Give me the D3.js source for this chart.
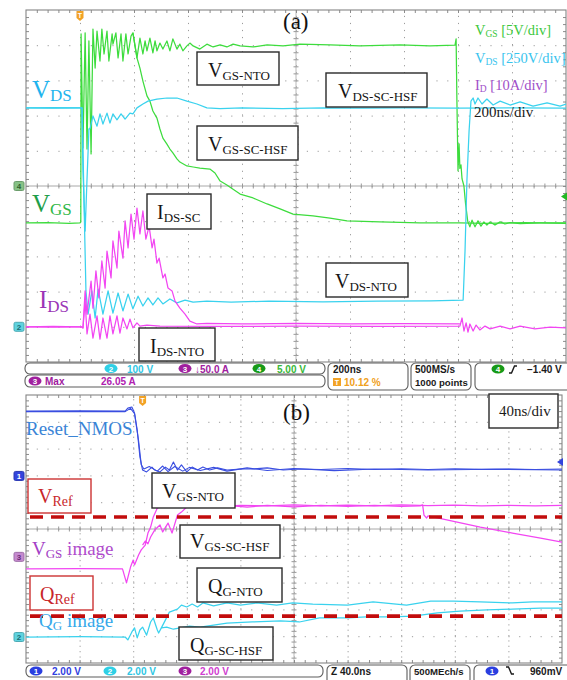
<!DOCTYPE html>
<html>
<head>
<meta charset="utf-8">
<title>Gate driver turn-off waveforms</title>
<script src="https://cdn.jsdelivr.net/npm/d3@7/dist/d3.min.js"></script>
<style>
  html, body { margin: 0; padding: 0; background: #fff; }
  svg { display: block; }
</style>
</head>
<body>
<svg id="chart" width="567" height="680"></svg>
<script>
// ---------- Panel (a): 200 ns/div, time in ns (trigger = 0), amplitude in screen divisions ----------
const timeDomainA = [-200, 1800];

const vgsNto = [[-200,-1.05],[-120,-1.04],[-40,-1.06],[0,-1.05],[3,-1.02],[4,4.32],[11,1.08],[19,4.35],[26,1.05],[33,4.12],[41,0.91],[48,4.46],[56,3.35],[63,4.40],[74,3.55],[81,4.46],[89,3.75],[100,4.40],[107,3.55],[119,4.32],[122,4.03],[133,4.35],[141,3.64],[152,4.32],[159,3.55],[170,4.32],[178,3.75],[189,4.26],[196,4.35],[211,3.64],[222,4.20],[233,3.75],[241,4.12],[248,3.84],[259,4.20],[270,3.78],[278,4.12],[285,3.84],[296,4.06],[307,3.89],[322,4.12],[333,3.84],[344,4.18],[359,3.89],[370,4.03],[381,3.84],[396,3.98],[407,4.06],[419,3.98],[444,3.89],[470,4.03],[493,3.95],[519,4.01],[544,3.95],[567,4.03],[593,3.98],[641,3.95],[693,4.01],[752,3.98],[815,4.03],[926,4.01],[1037,3.98],[1185,4.01],[1296,3.98],[1389,4.00],[1393,4.18],[1396,2.41],[1400,0.43],[1404,1.20],[1407,0.50],[1411,0.60],[1415,0.20],[1422,0.00],[1428,-0.50],[1436,-1.00],[1444,-1.16],[1452,-0.97],[1463,-1.16],[1474,-0.99],[1485,-1.14],[1496,-1.02],[1507,-1.11],[1519,-1.02],[1537,-1.11],[1556,-1.02],[1574,-1.08],[1593,-1.04],[1630,-1.07],[1704,-1.05],[1800,-1.05]];

const vgsScHsf = [[196,4.35],[211,3.64],[222,3.35],[233,2.98],[248,2.56],[259,2.41],[270,2.13],[285,1.93],[296,1.62],[307,1.36],[322,1.19],[333,1.05],[344,0.94],[359,0.77],[370,0.68],[396,0.57],[419,0.54],[444,0.51],[481,0.48],[500,0.37],[519,0.14],[544,0.03],[567,-0.09],[593,-0.23],[641,-0.34],[693,-0.51],[741,-0.65],[789,-0.80],[863,-0.85],[926,-0.91],[989,-0.99],[1111,-1.02],[1259,-1.05],[1407,-1.05],[1500,-1.06],[1650,-1.04],[1800,-1.06]];

const vdsNto = [[-200,2.22],[-100,2.21],[0,2.22],[8,2.22],[15,-0.50],[22,-2.98],[30,-3.64],[44,-2.98],[56,-3.75],[67,-2.93],[85,-3.64],[104,-2.98],[122,-3.61],[141,-3.04],[159,-3.55],[178,-3.07],[196,-3.49],[215,-3.13],[233,-3.41],[252,-3.18],[270,-3.38],[289,-3.18],[307,-3.35],[333,-3.21],[359,-3.32],[389,-3.24],[419,-3.30],[470,-3.27],[560,-3.30],[700,-3.27],[900,-3.29],[1100,-3.27],[1300,-3.26],[1419,-3.24],[1426,-1.85],[1433,0.14],[1441,1.56],[1448,2.41],[1456,2.50],[1463,2.33],[1474,2.50],[1489,2.33],[1507,2.47],[1530,2.30],[1556,2.41],[1593,2.30],[1630,2.39],[1678,2.27],[1730,2.36],[1778,2.27],[1800,2.33]];

const vdsScHsf = [[-200,2.22],[-100,2.23],[0,2.22],[7,2.22],[11,0.43],[19,-1.28],[26,0.20],[30,0.99],[33,1.62],[37,1.62],[48,1.99],[63,1.70],[74,2.05],[85,1.76],[100,2.07],[111,1.79],[122,2.05],[137,1.88],[152,2.05],[167,1.90],[185,2.07],[196,2.05],[211,2.22],[233,2.33],[252,2.41],[285,2.47],[322,2.50],[359,2.50],[396,2.41],[433,2.33],[470,2.22],[519,2.20],[600,2.22],[750,2.20],[900,2.22],[1050,2.21],[1200,2.22],[1400,2.21],[1600,2.22],[1800,2.21]];

const idsSc = [[-200,-4.00],[-100,-3.99],[0,-4.00],[5,-4.00],[11,-4.03],[19,-2.98],[26,-3.64],[41,-2.70],[48,-3.47],[59,-2.41],[70,-3.18],[81,-2.13],[93,-2.90],[100,-1.85],[115,-2.61],[122,-1.56],[137,-2.33],[144,-1.28],[159,-2.05],[167,-0.99],[178,-1.76],[189,-0.80],[200,-1.51],[211,-0.63],[222,-1.36],[233,-0.71],[244,-1.51],[256,-1.14],[267,-1.76],[274,-1.51],[285,-2.19],[293,-2.05],[307,-2.61],[315,-2.50],[326,-2.90],[341,-2.98],[352,-3.27],[370,-3.47],[389,-3.64],[407,-3.84],[433,-3.92],[470,-3.90],[600,-3.92],[800,-3.90],[1000,-3.92],[1200,-3.91],[1407,-3.92]];

const idsNto = [[-200,-4.00],[-100,-4.01],[0,-4.00],[5,-4.00],[11,-4.03],[19,-3.27],[26,-4.20],[37,-3.64],[48,-4.32],[63,-3.69],[74,-4.35],[85,-3.75],[100,-4.32],[111,-3.69],[122,-4.20],[137,-3.69],[148,-4.18],[159,-3.75],[174,-4.06],[185,-3.78],[196,-4.03],[211,-3.89],[222,-3.98],[248,-3.95],[296,-3.98],[500,-3.99],[800,-3.98],[1100,-3.99],[1407,-3.98],[1415,-3.75],[1422,-4.12],[1430,-3.89],[1437,-4.15],[1444,-3.92],[1456,-4.12],[1467,-3.95],[1481,-4.09],[1500,-3.98],[1519,-4.06],[1556,-3.98],[1593,-4.06],[1630,-3.98],[1685,-4.06],[1741,-4.01],[1800,-4.03]];

// channel ground markers and trigger level (divisions)
const groundsA = [{ch:"4", level:0, color:"#86c286", text:"#2f5f2f"}, {ch:"2", level:-4.0, color:"#5fd3df", text:"#1b6b75"}];
const triggerA = {time:0, level:-0.30, color:"#22b822"};

// ---------- Panel (b): 40 ns/div, time in ns from the left edge, amplitude in screen divisions ----------
const timeDomainB = [0, 400];

const resetNmosA = [[0,4.40],[40,4.41],[74,4.40],[76,4.51],[79,4.55],[81,4.33],[83,3.69],[85,2.69],[87,2.20],[90,2.13],[94,2.31],[96,2.20],[100,2.13],[104,2.31],[107,2.20],[110,2.50],[113,2.20],[116,2.39],[120,2.13],[124,2.31],[128,2.20],[132,2.31],[137,2.20],[143,2.28],[150,2.20],[160,2.24],[169,2.24],[180,2.28],[192,2.20],[204,2.24],[220,2.22],[240,2.26],[260,2.22],[280,2.25],[300,2.22],[320,2.25],[340,2.23],[360,2.24],[380,2.22],[400,2.24]];
const resetNmosB = [[0,4.38],[74,4.38],[78,4.50],[81,4.30],[84,3.30],[86,2.40],[88,2.24],[92,2.33],[98,2.16],[102,2.35],[106,2.14],[111,2.33],[117,2.16],[122,2.30],[130,2.18],[140,2.30],[150,2.16],[165,2.28],[180,2.18],[200,2.26],[230,2.18],[260,2.24],[300,2.20],[350,2.23],[400,2.20]];

const vgsImgNto = [[0,-1.49],[40,-1.48],[72,-1.49],[75,-2.01],[78,-1.42],[80,-1.16],[81,-1.34],[84,-0.97],[86,-0.78],[89,-0.60],[91,-0.15],[93,0.07],[95,0.45],[98,0.78],[102,0.90],[107,0.82],[113,0.90],[119,0.86],[130,0.90],[145,0.84],[160,0.88],[180,0.86],[200,0.90],[220,0.86],[240,0.89],[260,0.86],[280,0.90],[300,0.87],[320,0.89],[340,0.86],[360,0.88],[380,0.86],[400,0.88]];
const vgsImgScHsf = [[87,-0.60],[89,-0.45],[91,-0.55],[93,-0.30],[96,-0.04],[100,0.15],[102,-0.11],[106,0.22],[109,-0.15],[113,0.52],[116,0.63],[120,0.82],[125,0.90],[135,0.82],[150,0.88],[165,0.82],[180,0.88],[200,0.83],[220,0.88],[240,0.84],[260,0.88],[280,0.84],[294,0.86],[296,0.90],[297,0.52],[299,0.41],[300,0.49],[314,0.34],[339,0.07],[363,-0.15],[384,-0.34],[400,-0.49]];

const qgImgNto = [[0,-4.03],[40,-4.02],[74,-4.03],[76,-4.14],[79,-3.84],[81,-3.69],[83,-4.06],[85,-3.77],[87,-3.66],[90,-3.96],[93,-3.47],[95,-3.32],[98,-3.77],[99,-3.88],[101,-3.69],[104,-3.40],[107,-3.10],[113,-2.99],[116,-2.84],[120,-2.91],[124,-2.80],[128,-2.91],[132,-2.76],[140,-2.87],[150,-2.76],[160,-2.84],[172,-2.76],[187,-2.84],[199,-2.76],[214,-2.80],[240,-2.84],[259,-2.72],[284,-2.84],[302,-2.69],[319,-2.69],[339,-2.72],[363,-2.76],[378,-2.72],[400,-2.72]];
const qgImgScHsf = [[101,-3.69],[105,-3.66],[110,-3.74],[115,-3.69],[122,-3.62],[130,-3.66],[150,-3.51],[169,-3.47],[190,-3.43],[204,-3.47],[219,-3.32],[240,-3.32],[254,-3.28],[272,-3.28],[289,-3.25],[307,-3.13],[324,-3.06],[344,-3.02],[363,-2.99],[384,-2.95],[400,-2.95]];

// comparator reference thresholds (divisions)
const refLevels = [0.45, -3.25];

const groundsB = [{ch:"1", level:1.98, color:"#3344dd", text:"#fff"}, {ch:"3", level:-1.04, color:"#c58ad0", text:"#6a2a7a"}, {ch:"2", level:-4.03, color:"#5fd3df", text:"#1b6b75"}];
const triggerB = {time:87, level:2.50, color:"#3344dd"};

// ---------- drawing ----------
const SERIF = "'Liberation Serif', 'Times New Roman', serif";
const SANS = "'Liberation Sans', Arial, 'DejaVu Sans', sans-serif";
const GREEN = "#3ddc3d", CYAN = "#3ad2ee", MAGENTA = "#f246f2", BLUE = "#3a4ee0";

const svg = d3.select("#chart");
const xA = d3.scaleLinear().domain(timeDomainA).range([26, 566]);
const yA = d3.scaleLinear().domain([-5, 5]).range([362, 10]);
const xB = d3.scaleLinear().domain(timeDomainB).range([26, 562]);
const yB = d3.scaleLinear().domain([-5, 5]).range([663, 395]);

function styleTicks(a, color) {
  a.select(".domain").remove();
  a.selectAll("line").attr("stroke", color || "#8c8c8c");
}

function graticule(g, x, y) {
  const [x0, x1] = x.range(), [y1, y0] = y.range();
  const w = x1 - x0, h = y1 - y0;
  const [d0, d1] = x.domain();
  const step = (d1 - d0) / 10;
  const majorX = d3.range(1, 10).map(i => d0 + i * step);
  const minorX = d3.range(1, 50).map(i => d0 + i * step / 5);
  const majorY = d3.range(-4, 5);
  const minorY = d3.range(-24, 25).map(i => i / 5);
  const mx = w / 50, my = h / 50;

  g.append("g").attr("transform", `translate(0,${y1})`)
    .call(d3.axisBottom(x).tickValues(majorX).tickSize(-h).tickFormat(""))
    .call(a => { a.select(".domain").remove(); a.selectAll("line").attr("stroke", "#9c9c9c").attr("stroke-dasharray", `1.2 ${my - 1.2}`); });
  g.append("g").attr("transform", `translate(${x0},0)`)
    .call(d3.axisLeft(y).tickValues(majorY).tickSize(-w).tickFormat(""))
    .call(a => { a.select(".domain").remove(); a.selectAll("line").attr("stroke", "#9c9c9c").attr("stroke-dasharray", `1.2 ${mx - 1.2}`); });

  const cx = x((d0 + d1) / 2), cy = y(0);
  g.append("line").attr("x1", x0).attr("x2", x1).attr("y1", cy).attr("y2", cy).attr("stroke", "#a8a8a8");
  g.append("line").attr("x1", cx).attr("x2", cx).attr("y1", y0).attr("y2", y1).attr("stroke", "#b8b8b8");
  g.append("g").attr("transform", `translate(0,${cy - 2.5})`)
    .call(d3.axisBottom(x).tickValues(minorX).tickSize(5).tickFormat("")).call(a => styleTicks(a, "#999"));
  g.append("g").attr("transform", `translate(${cx - 2.5},0)`)
    .call(d3.axisRight(y).tickValues(minorY).tickSize(5).tickFormat("")).call(a => styleTicks(a, "#999"));

  g.append("g").attr("transform", `translate(0,${y0})`)
    .call(d3.axisTop(x).tickValues(minorX).tickSize(-3).tickFormat("")).call(a => styleTicks(a));
  g.append("g").attr("transform", `translate(0,${y1})`)
    .call(d3.axisBottom(x).tickValues(minorX).tickSize(-3).tickFormat("")).call(a => styleTicks(a));
  g.append("g").attr("transform", `translate(${x0},0)`)
    .call(d3.axisLeft(y).tickValues(minorY).tickSize(-3).tickFormat("")).call(a => styleTicks(a));
  g.append("g").attr("transform", `translate(${x1},0)`)
    .call(d3.axisRight(y).tickValues(minorY).tickSize(-3).tickFormat("")).call(a => styleTicks(a));

  g.append("rect").attr("x", x0).attr("y", y0).attr("width", w).attr("height", h)
    .attr("fill", "none").attr("stroke", "#858585").attr("stroke-width", 1.1);
}

function traces(g, id, x, y, list) {
  const [x0, x1] = x.range(), [y1, y0] = y.range();
  svg.append("clipPath").attr("id", id).append("rect")
    .attr("x", x0).attr("y", y0).attr("width", x1 - x0).attr("height", y1 - y0);
  const line = d3.line().x(d => x(d[0])).y(d => y(d[1]));
  const tg = g.append("g").attr("clip-path", `url(#${id})`);
  list.forEach(s => tg.append("path").datum(s.data)
    .attr("fill", "none").attr("stroke", s.color).attr("stroke-width", s.width || 1.25)
    .attr("stroke-linejoin", "round").attr("d", line));
  return tg;
}

function label(g, x, y, parts, family) {
  const t = g.append("text").attr("x", x).attr("y", y).attr("font-family", family || SERIF);
  parts.forEach(p => t.append("tspan").text(p.t).attr("font-size", p.s).attr("fill", p.c).attr("dy", p.dy || 0));
  return t;
}

function boxLabel(g, b) {
  g.append("rect").attr("x", b.x).attr("y", b.y).attr("width", b.w).attr("height", b.h)
    .attr("fill", "#fff").attr("stroke", b.stroke || "#2a2a2a").attr("stroke-width", 1.4);
  const c = b.color || "#151515";
  label(g, b.tx, b.ty, [{t: b.main, s: b.ms || 20, c}, {t: b.sub, s: b.ss || 13, c, dy: 3}]);
}

function groundMarker(g, y, m) {
  g.append("rect").attr("x", 14).attr("y", y - 4.5).attr("width", 10).attr("height", 9).attr("rx", 1.5)
    .attr("fill", m.color).attr("stroke", d3.color(m.color).darker(0.6));
  g.append("text").attr("x", 19).attr("y", y + 3).attr("text-anchor", "middle")
    .attr("font-family", SANS).attr("font-weight", "bold").attr("font-size", 8).attr("fill", m.text).text(m.ch);
}

function triggerMarkers(g, x, y, t) {
  const px = x(t.time), top = y.range()[1];
  g.append("path").attr("d", `M${px - 3.5},${top + 1} h7 v7 l-3.5,3 l-3.5,-3 z`).attr("fill", "#f2a225");
  g.append("text").attr("x", px).attr("y", top + 7.5).attr("text-anchor", "middle")
    .attr("font-family", SANS).attr("font-weight", "bold").attr("font-size", 7).attr("fill", "#fff").text("T");
  const py = y(t.level), right = x.range()[1];
  g.append("path").attr("d", `M${right - 5},${py} l6,-4 v8 z`).attr("fill", t.color);
}

function badge(g, cx, cy, n, fill) {
  g.append("ellipse").attr("cx", cx).attr("cy", cy).attr("rx", 6.5).attr("ry", 4.6).attr("fill", fill);
  g.append("text").attr("x", cx).attr("y", cy + 3).attr("text-anchor", "middle")
    .attr("font-family", SANS).attr("font-weight", "bold").attr("font-size", 8).attr("fill", "#fff").text(n);
}
function readout(g, x, y, s, color, size) {
  g.append("text").attr("x", x).attr("y", y).attr("font-family", SANS).attr("font-weight", "bold")
    .attr("font-size", size || 10).attr("fill", color).text(s);
}
function frame(g, x, y, w, h) {
  g.append("rect").attr("x", x).attr("y", y).attr("width", w).attr("height", h).attr("rx", 5)
    .attr("fill", "#fff").attr("stroke", "#5c5c5c").attr("stroke-width", 1.1);
}
function tBadge(g, x, y) {
  g.append("rect").attr("x", x).attr("y", y).attr("width", 8).attr("height", 8).attr("fill", "#f2a225");
  g.append("text").attr("x", x + 4).attr("y", y + 7).attr("text-anchor", "middle").attr("font-family", SANS)
    .attr("font-weight", "bold").attr("font-size", 7).attr("fill", "#fff").text("T");
}

// ===== Panel (a) =====
const gA = svg.append("g");
graticule(gA, xA, yA);
traces(gA, "clipA", xA, yA, [
  {data: vgsNto, color: GREEN},
  {data: vgsScHsf, color: GREEN},
  {data: vdsScHsf, color: CYAN},
  {data: vdsNto, color: CYAN},
  {data: idsNto, color: MAGENTA},
  {data: idsSc, color: MAGENTA}
]);
groundsA.forEach(m => groundMarker(gA, yA(m.level), m));
triggerMarkers(gA, xA, yA, triggerA);

label(gA, 32, 98, [{t: "V", s: 25, c: "#1fb4ee"}, {t: "DS", s: 17, c: "#1fb4ee", dy: 3}]);
label(gA, 32, 212, [{t: "V", s: 25, c: "#1e9e4a"}, {t: "GS", s: 17, c: "#2fb847", dy: 3}]);
label(gA, 39, 308, [{t: "I", s: 25, c: "#9a34b6"}, {t: "DS", s: 17, c: "#9a34b6", dy: 4}]);

label(gA, 283, 29, [{t: "(a)", s: 23, c: "#111"}]);
label(gA, 475, 35, [{t: "V", s: 14.5, c: "#3cc83c"}, {t: "GS", s: 9.5, c: "#3cc83c", dy: 2}, {t: " [5V/div]", s: 14.5, c: "#3cc83c", dy: -2}]);
label(gA, 475, 63, [{t: "V", s: 14.5, c: "#38c4ee"}, {t: "DS", s: 9.5, c: "#38c4ee", dy: 2}, {t: " [250V/div]", s: 14.5, c: "#38c4ee", dy: -2}]);
label(gA, 475, 90, [{t: "I", s: 14.5, c: "#a04ec8"}, {t: "D", s: 9.5, c: "#a04ec8", dy: 2}, {t: " [10A/div]", s: 14.5, c: "#a04ec8", dy: -2}]);
label(gA, 474, 117, [{t: "200ns/div", s: 15, c: "#1a1a1a"}]);

[
  {x: 197, y: 52, w: 82, h: 33, tx: 208, ty: 77, main: "V", sub: "GS-NTO"},
  {x: 197, y: 126, w: 101, h: 34, tx: 208, ty: 151, main: "V", sub: "GS-SC-HSF"},
  {x: 326, y: 73, w: 101, h: 34, tx: 338, ty: 98, main: "V", sub: "DS-SC-HSF"},
  {x: 147, y: 194, w: 64, h: 35, tx: 157, ty: 219, main: "I", sub: "DS-SC"},
  {x: 326, y: 263, w: 82, h: 34, tx: 335, ty: 288, main: "V", sub: "DS-NTO"},
  {x: 139, y: 328, w: 76, h: 33, tx: 150, ty: 353, main: "I", sub: "DS-NTO"}
].forEach(b => boxLabel(gA, b));

// status readouts under panel (a)
const sA = svg.append("g");
frame(sA, 25, 363, 300, 11);
frame(sA, 25, 375, 300, 12);
badge(sA, 111, 368.5, "2", "#2fd0e6"); readout(sA, 127, 372.5, "100 V", "#2ec6e4");
badge(sA, 185, 368.5, "3", "#a0209e"); readout(sA, 195, 372.5, "\u219350.0 A", "#a0209e");
badge(sA, 259, 368.5, "4", "#179a17"); readout(sA, 277, 372.5, "5.00 V", "#38b838");
badge(sA, 35, 381, "3", "#a0209e"); readout(sA, 45, 385, "Max", "#a0209e");
readout(sA, 101, 385, "26.05 A", "#b020b0");
frame(sA, 328, 363, 80, 27);
readout(sA, 333, 373, "200ns", "#1a1a1a");
tBadge(sA, 333, 378); readout(sA, 344, 386, "10.12 %", "#f0a020");
frame(sA, 411, 363, 60, 27);
readout(sA, 415, 373, "500MS/s", "#1a1a1a");
readout(sA, 415, 386, "1000 points", "#1a1a1a", 9.6);
frame(sA, 475, 363, 100, 27);
badge(sA, 498, 369, "4", "#179a17");
sA.append("path").attr("d", "M509,373 h2.5 l3,-7 h2.5").attr("fill", "none").attr("stroke", "#1a1a1a").attr("stroke-width", 1.4);
readout(sA, 527, 373, "\u22121.40 V", "#1a1a1a");

// ===== Panel (b) =====
const gB = svg.append("g");
graticule(gB, xB, yB);
traces(gB, "clipB", xB, yB, [
  {data: resetNmosB, color: BLUE, width: 1.1},
  {data: resetNmosA, color: BLUE, width: 1.1},
  {data: vgsImgScHsf, color: MAGENTA},
  {data: vgsImgNto, color: MAGENTA},
  {data: qgImgScHsf, color: CYAN},
  {data: qgImgNto, color: CYAN}
]);
// reference thresholds as dashed lines
gB.selectAll("line.ref").data(refLevels).join("line").attr("class", "ref")
  .attr("x1", 30).attr("x2", xB.range()[1]).attr("y1", d => yB(d)).attr("y2", d => yB(d))
  .attr("stroke", "#c20c0c").attr("stroke-width", 3.6).attr("stroke-dasharray", "13 8");

groundsB.forEach(m => groundMarker(gB, yB(m.level), m));
triggerMarkers(gB, xB, yB, triggerB);

label(gB, 26, 435, [{t: "Reset_NMOS", s: 19, c: "#3a84d6"}]);
label(gB, 32, 555, [{t: "V", s: 19, c: "#a440c6"}, {t: "GS", s: 13, c: "#a440c6", dy: 3}, {t: " image", s: 19, c: "#b04ccc", dy: -3}]);
label(gB, 39, 627, [{t: "Q", s: 19, c: "#36a8ea"}, {t: "G", s: 13, c: "#36a8ea", dy: 3}, {t: " image", s: 19, c: "#36a8ea", dy: -3}]);
label(gB, 283, 420, [{t: "(b)", s: 23, c: "#111"}]);

gB.append("rect").attr("x", 489).attr("y", 394).attr("width", 69).attr("height", 34)
  .attr("fill", "#fff").attr("stroke", "#2a2a2a").attr("stroke-width", 1.4);
label(gB, 499, 416, [{t: "40ns/div", s: 15, c: "#1a1a1a"}]);

[
  {x: 28, y: 479, w: 63, h: 34, tx: 38, ty: 503, main: "V", sub: "Ref", color: "#c8262a", stroke: "#cc3333", ss: 14},
  {x: 30, y: 576, w: 63, h: 34, tx: 40, ty: 601, main: "Q", sub: "Ref", color: "#c8262a", stroke: "#cc3333", ss: 14},
  {x: 152, y: 473, w: 83, h: 35, tx: 162, ty: 498, main: "V", sub: "GS-NTO"},
  {x: 180, y: 525, w: 100, h: 33, tx: 190, ty: 548, main: "V", sub: "GS-SC-HSF"},
  {x: 197, y: 568, w: 85, h: 34, tx: 208, ty: 593, main: "Q", sub: "G-NTO"},
  {x: 179, y: 627, w: 94, h: 33, tx: 190, ty: 652, main: "Q", sub: "G-SC-HSF"}
].forEach(b => boxLabel(gB, b));

// status readouts under panel (b); the second row runs past the bottom edge
const sB = svg.append("g");
frame(sB, 26, 665, 297, 12);
badge(sB, 36, 671, "1", "#2a3ee0"); readout(sB, 52, 675, "2.00 V", "#3040e0");
badge(sB, 110, 671, "2", "#2fd0e6"); readout(sB, 127, 675, "2.00 V", "#2ec6e4");
badge(sB, 185, 671, "3", "#a0209e"); readout(sB, 200, 675, "2.00 V", "#d040d0");
frame(sB, 327, 665, 80, 27);
readout(sB, 331, 675, "Z 40.0ns", "#1a1a1a");
tBadge(sB, 331, 680); readout(sB, 342, 688, "10.10 %", "#f0a020");
frame(sB, 410, 665, 60, 27);
readout(sB, 414, 675, "500MEch/s", "#1a1a1a", 9.6);
readout(sB, 414, 688, "1000 points", "#1a1a1a", 9.6);
frame(sB, 474, 665, 100, 27);
badge(sB, 492, 671, "1", "#2a3ee0");
sB.append("path").attr("d", "M506,667 h2.5 l3,7 h2.5").attr("fill", "none").attr("stroke", "#1a1a1a").attr("stroke-width", 1.4);
readout(sB, 530, 675, "960mV", "#1a1a1a");
</script>
</body>
</html>
